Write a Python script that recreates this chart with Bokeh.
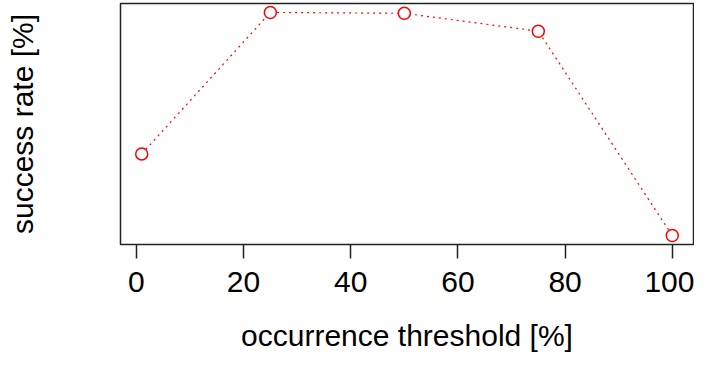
from bokeh.plotting import figure
from bokeh.models import Range1d, FixedTicker, ColumnDataSource
from bokeh.embed import file_html
from bokeh.resources import INLINE

threshold = [1, 25, 50, 75, 100]
success_rate = [36.6, 100.0, 99.6, 91.6, 0.0]
x_ticks = [0, 20, 40, 60, 80, 100]

src = ColumnDataSource(dict(x=threshold, y=success_rate))

p = figure(width=694, height=354, output_backend="svg", toolbar_location=None,
           x_range=Range1d(-2.96, 103.96), y_range=Range1d(-4, 104),
           min_border_left=120, min_border_right=1, min_border_top=3, min_border_bottom=0)
p.background_fill_color = "white"
p.border_fill_color = "white"
p.grid.visible = False
p.outline_line_color = "#222222"
p.outline_line_width = 1.5

FONT = "Liberation Sans"

xa = p.xaxis[0]
xa.ticker = FixedTicker(ticks=x_ticks)
xa.axis_line_color = None
xa.major_tick_out = 14
xa.major_tick_in = 0
xa.major_tick_line_width = 1.5
xa.major_tick_line_color = "#222222"
xa.minor_tick_line_color = None
xa.major_label_text_font = FONT
xa.major_label_text_font_size = "30px"
xa.major_label_text_color = "black"
xa.major_label_standoff = 13
xa.axis_label = "occurrence threshold [%]"
xa.axis_label_text_font = FONT
xa.axis_label_text_font_size = "30px"
xa.axis_label_text_font_style = "normal"
xa.axis_label_text_color = "black"
xa.axis_label_standoff = 24

ya = p.yaxis[0]
ya.ticker = FixedTicker(ticks=[])
ya.axis_line_color = None
ya.major_tick_line_color = None
ya.minor_tick_line_color = None
ya.major_label_text_font_size = "0px"
ya.axis_label = "success rate [%]"
ya.axis_label_text_font = FONT
ya.axis_label_text_font_size = "30px"
ya.axis_label_text_font_style = "normal"
ya.axis_label_text_color = "black"
ya.axis_label_standoff = 82

p.line("x", "y", source=src, line_color="red", line_width=1.2, line_dash="2 4")
p.scatter("x", "y", source=src, marker="circle", size=12, line_color="red",
          line_width=1.5, fill_color="white")

open("out.html", "w").write(file_html(p, INLINE))
